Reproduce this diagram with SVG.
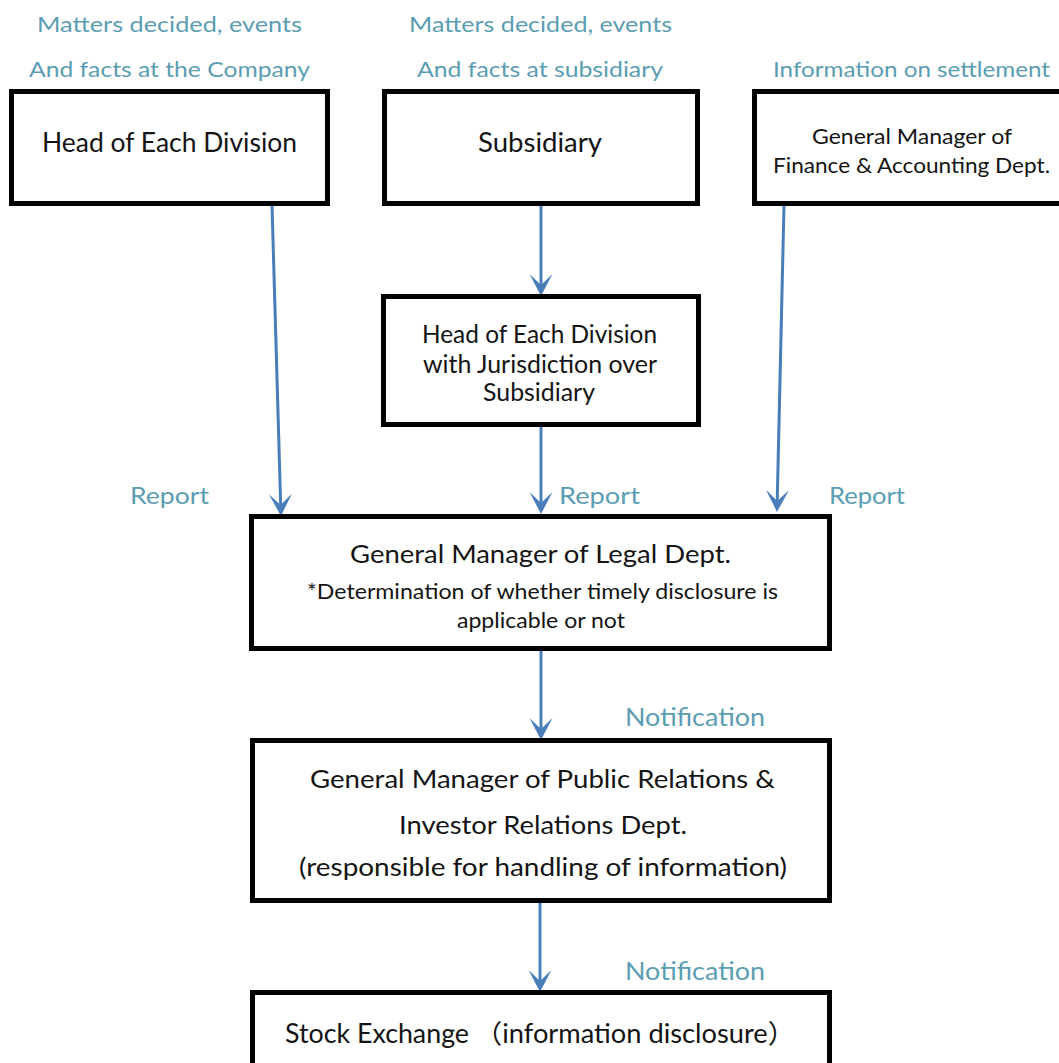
<svg xmlns="http://www.w3.org/2000/svg" width="1059" height="1063" viewBox="0 0 1059 1063">
<style>
.box{fill:#fff;stroke:#000;stroke-width:5}
.t{font-family:Lato,"Liberation Sans","Noto Sans CJK JP",sans-serif;fill:#141414}
.lbl{font-family:Lato,"Liberation Sans",sans-serif;fill:#5b9db2;font-size:22px}
.arr{stroke:#4a7ebb;stroke-width:3;fill:none;marker-end:url(#ah)}
</style>
<defs>
<marker id="ah" markerUnits="userSpaceOnUse" viewBox="-13 -12 24 24" markerWidth="24" markerHeight="24" refX="0" refY="0" orient="auto">
<path d="M10,0 L-12,-11.5 L-1,0 L-12,11.5 Z" fill="#4a7ebb"/>
</marker>
</defs>
<rect width="1059" height="1063" fill="#fff"/>

<g id="labels">
<text class="lbl" x="37" y="32" textLength="265" lengthAdjust="spacingAndGlyphs">Matters decided, events</text>
<text class="lbl" x="29" y="77" textLength="281" lengthAdjust="spacingAndGlyphs">And facts at the Company</text>
<text class="lbl" x="409" y="32" textLength="263" lengthAdjust="spacingAndGlyphs">Matters decided, events</text>
<text class="lbl" x="417" y="77" textLength="246" lengthAdjust="spacingAndGlyphs">And facts at subsidiary</text>
<text class="lbl" x="773" y="77" textLength="277" lengthAdjust="spacingAndGlyphs">Information on settlement</text>
<text class="lbl" x="130" y="504" style="font-size:24px" textLength="79" lengthAdjust="spacingAndGlyphs">Report</text>
<text class="lbl" x="559" y="504" style="font-size:24px" textLength="81" lengthAdjust="spacingAndGlyphs">Report</text>
<text class="lbl" x="829" y="504" style="font-size:24px" textLength="76" lengthAdjust="spacingAndGlyphs">Report</text>
<text class="lbl" x="625" y="726" style="font-size:25px" textLength="140" lengthAdjust="spacingAndGlyphs">Notification</text>
<text class="lbl" x="625" y="980" style="font-size:25px" textLength="140" lengthAdjust="spacingAndGlyphs">Notification</text>
</g>

<g id="connectors">
<line class="arr" x1="272" y1="205" x2="280.7" y2="506"/>
<line class="arr" x1="541" y1="205" x2="541" y2="286"/>
<line class="arr" x1="541" y1="426" x2="541" y2="504"/>
<line class="arr" x1="784" y1="205" x2="777.2" y2="502"/>
<line class="arr" x1="541" y1="650" x2="541" y2="730"/>
<line class="arr" x1="540" y1="903" x2="540" y2="982"/>
</g>

<g id="head-division">
<rect class="box" x="11.5" y="91.5" width="316" height="112"/>
<text class="t" x="42" y="152" style="font-size:27px" textLength="255" lengthAdjust="spacingAndGlyphs">Head of Each Division</text>
</g>

<g id="subsidiary">
<rect class="box" x="384.5" y="91.5" width="313" height="112"/>
<text class="t" x="478" y="152" style="font-size:27px" textLength="124" lengthAdjust="spacingAndGlyphs">Subsidiary</text>
</g>

<g id="finance">
<rect class="box" x="754.5" y="91.5" width="320" height="112"/>
<text class="t" x="812" y="144" style="font-size:21px" textLength="200" lengthAdjust="spacingAndGlyphs">General Manager of</text>
<text class="t" x="773" y="173" style="font-size:21px" textLength="277" lengthAdjust="spacingAndGlyphs">Finance &amp; Accounting Dept.</text>
</g>

<g id="head-division-subsidiary">
<rect class="box" x="383.5" y="296.5" width="315" height="128"/>
<text class="t" x="422" y="343" style="font-size:25px" textLength="235" lengthAdjust="spacingAndGlyphs">Head of Each Division</text>
<text class="t" x="423" y="373" style="font-size:25px" textLength="234" lengthAdjust="spacingAndGlyphs">with Jurisdiction over</text>
<text class="t" x="483" y="401" style="font-size:25px" textLength="112" lengthAdjust="spacingAndGlyphs">Subsidiary</text>
</g>

<g id="legal">
<rect class="box" x="251.5" y="516.5" width="578" height="132"/>
<text class="t" x="350" y="563" style="font-size:25px" textLength="381" lengthAdjust="spacingAndGlyphs">General Manager of Legal Dept.</text>
<text class="t" x="307" y="599" style="font-size:22px" textLength="471" lengthAdjust="spacingAndGlyphs">*Determination of whether timely disclosure is</text>
<text class="t" x="457" y="628" style="font-size:22px" textLength="168" lengthAdjust="spacingAndGlyphs">applicable or not</text>
</g>

<g id="pr-ir">
<rect class="box" x="252.5" y="740.5" width="577" height="160"/>
<text class="t" x="310" y="788" style="font-size:25px" textLength="465" lengthAdjust="spacingAndGlyphs">General Manager of Public Relations &amp;</text>
<text class="t" x="399" y="834" style="font-size:25px" textLength="288" lengthAdjust="spacingAndGlyphs">Investor Relations Dept.</text>
<text class="t" x="299" y="876" style="font-size:25px" textLength="488" lengthAdjust="spacingAndGlyphs">(responsible for handling of information)</text>
</g>

<g id="stock-exchange">
<rect class="box" x="252.5" y="992.5" width="577" height="100"/>
<text class="t" x="285" y="1043" style="font-size:26px" textLength="184" lengthAdjust="spacingAndGlyphs">Stock Exchange</text>
<text class="t" x="475" y="1043" style="font-size:26px" textLength="320" lengthAdjust="spacingAndGlyphs">（information disclosure）</text>
</g>
</svg>
